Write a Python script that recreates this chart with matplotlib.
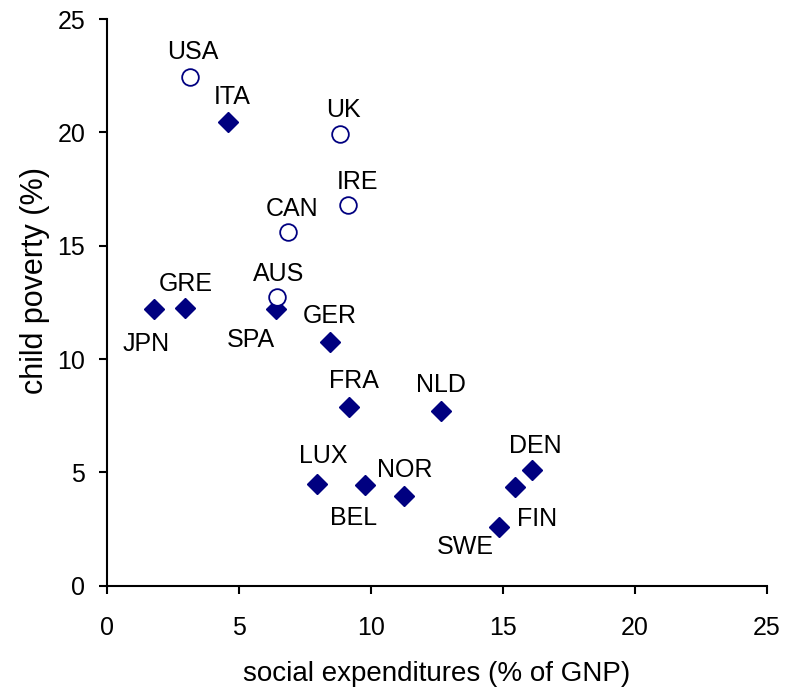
import matplotlib
matplotlib.use("Agg")
import matplotlib.pyplot as plt

plt.rcParams["font.family"] = ["Liberation Sans", "DejaVu Sans"]

# liberal welfare states (open circles)
open_names = ["USA", "UK", "IRE", "CAN", "AUS"]
open_x = [3.13, 8.81, 9.12, 6.84, 6.41]
open_y = [22.43, 19.93, 16.78, 15.6, 12.75]

# everyone else (filled diamonds)
fill_names = ["ITA", "GRE", "JPN", "SPA", "GER", "FRA", "NLD", "LUX",
              "BEL", "NOR", "DEN", "FIN", "SWE"]
fill_x = [4.56, 2.93, 1.77, 6.38, 8.43, 9.16, 12.63, 7.94,
          9.75, 11.23, 16.09, 15.44, 14.84]
fill_y = [20.44, 12.26, 12.19, 12.19, 10.75, 7.87, 7.69, 4.5,
          4.43, 3.96, 5.1, 4.34, 2.6]

# label offsets from the marker, in pixels (label centre)
label_off = {
    "USA": (3, 27), "UK": (4, 26), "IRE": (9, 25), "CAN": (4, 25), "AUS": (2, 25),
    "ITA": (4, 27), "GRE": (1, 26), "JPN": (-8, -33), "SPA": (-25, -29),
    "GER": (0, 28), "FRA": (5, 28), "NLD": (0, 28), "LUX": (6, 30),
    "BEL": (-11, -31), "NOR": (1, 28), "DEN": (3, 26), "FIN": (22, -30),
    "SWE": (-34, -18),
}

navy = "#000080"

fig = plt.figure(figsize=(7.88, 6.94), dpi=100)
ax = fig.add_axes([0.1364, 0.156, 0.837, 0.8166])

ax.plot(fill_x, fill_y, linestyle="none", marker="D", markersize=10,
        color=navy, zorder=3)
ax.plot(open_x, open_y, linestyle="none", marker="o", markersize=12,
        markerfacecolor="white", markeredgecolor=navy, markeredgewidth=1.3,
        zorder=4)

for names, xs, ys in [(open_names, open_x, open_y), (fill_names, fill_x, fill_y)]:
    for n, x, y in zip(names, xs, ys):
        dx, dy = label_off[n]
        ax.annotate(n, (x, y), xytext=(dx, dy - 9), textcoords="offset pixels",
                    ha="center", va="baseline", fontsize=18, color="black")

ax.set_xlim(0, 25)
ax.set_ylim(0, 25)
ax.set_xticks([0, 5, 10, 15, 20, 25])
ax.set_yticks([0, 5, 10, 15, 20, 25])

for s in ["top", "right"]:
    ax.spines[s].set_visible(False)
for s in ["left", "bottom"]:
    ax.spines[s].set_linewidth(1.5)
ax.tick_params(direction="out", length=6, width=1.5, labelsize=18)
ax.tick_params(axis="y", pad=10)
ax.tick_params(axis="x", pad=16)

# axis titles placed by hand, as in the source chart
fig.text(437 / 788, 1 - 681 / 694, "social expenditures (% of GNP)",
         ha="center", va="baseline", fontsize=20)
fig.text(35 / 788, 1 - 280 / 694, "child poverty (%)", rotation=90,
         ha="center", va="center", fontsize=22)

plt.savefig("out.png", dpi=100)
plt.close()
